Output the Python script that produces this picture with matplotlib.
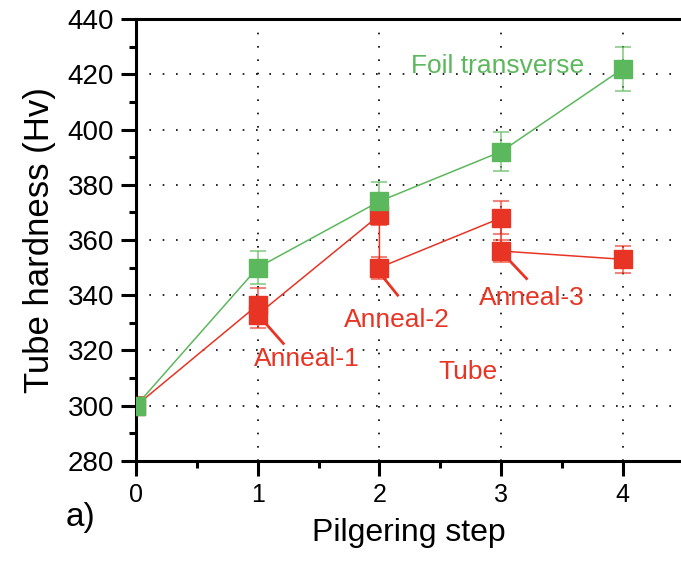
import numpy as np
import matplotlib
matplotlib.use("Agg")
import matplotlib.pyplot as plt
from matplotlib.ticker import MultipleLocator

plt.rcParams["font.family"] = ["Liberation Sans", "DejaVu Sans"]

GREEN = "#5cb85c"
RED = "#e83424"

# Foil, transverse direction
foil_step = [0, 1, 2, 3, 4]
foil_hv = [300, 350, 374, 392, 422]
foil_err = [3, 6, 7, 7, 8]

# Tube: each anneal gives a second point at the same step
tube_step = [0, 1, 1, 2, 2, 3, 3, 4]
tube_hv = [300, 336.5, 333, 369, 350, 368, 356, 353]
tube_err = [3, 6, 5, 3.5, 4, 6, 4, 5]

# label text, point it refers to, text position
anneal_labels = ["Anneal-1", "Anneal-2", "Anneal-3"]
anneal_points = [(1.07, 329.5), (2.04, 346), (3.06, 353)]
anneal_tips = [(1.21, 322.5), (2.15, 340), (3.21, 346)]
anneal_text = [(1.4, 317), (2.14, 331), (3.25, 339)]

fig = plt.figure(figsize=(6.81, 5.64), dpi=100)
ax = fig.add_axes([0.2, 0.183, 0.8, 0.783])

# error bars first, lighter
ax.errorbar(foil_step, foil_hv, yerr=foil_err, fmt="none", ecolor=GREEN,
            alpha=0.6, elinewidth=1.5, capsize=6, capthick=1.5, zorder=2)
ax.errorbar(tube_step, tube_hv, yerr=tube_err, fmt="none", ecolor=RED,
            alpha=0.6, elinewidth=1.5, capsize=6, capthick=1.5, zorder=2)

ax.plot(foil_step, foil_hv, "-", color=GREEN, lw=1.1, zorder=3)
ax.plot(tube_step, tube_hv, "-", color=RED, lw=1.1, zorder=3)
ax.plot(tube_step, tube_hv, "s", color=RED, ms=13, mec=RED, zorder=4)
ax.plot(foil_step, foil_hv, "s", color=GREEN, ms=13, mec=GREEN, zorder=5)

for lab, p0, p1, pt in zip(anneal_labels, anneal_points, anneal_tips, anneal_text):
    ax.plot([p0[0], p1[0]], [p0[1], p1[1]], color=RED, lw=2, zorder=4)
    ax.text(pt[0], pt[1], lab, color=RED, fontsize=19, ha="center", va="center")

ax.text(2.73, 312, "Tube", color=RED, fontsize=19, ha="center", va="center")
ax.text(2.97, 423, "Foil transverse", color=GREEN, fontsize=19,
        ha="center", va="center")

ax.set_xlim(0, 4.48)
ax.set_ylim(280, 440)
ax.xaxis.set_major_locator(MultipleLocator(1))
ax.xaxis.set_minor_locator(MultipleLocator(0.5))
ax.yaxis.set_major_locator(MultipleLocator(20))
ax.yaxis.set_minor_locator(MultipleLocator(10))

ax.grid(True, which="major", color="black", linestyle=(0, (1, 7)), lw=1.2)
ax.set_axisbelow(True)

ax.spines["right"].set_visible(False)
for s in ["left", "bottom", "top"]:
    ax.spines[s].set_linewidth(2.2)
ax.tick_params(which="major", direction="out", length=11, width=2.2, pad=5)
ax.tick_params(which="minor", direction="out", length=5, width=2.2)
ax.tick_params(axis="y", labelsize=20)
ax.tick_params(axis="x", labelsize=18)
ax.tick_params(top=False, right=False, which="both")

ax.set_xlabel("Pilgering step", fontsize=23, labelpad=8)
ax.set_ylabel("Tube hardness (Hv)", fontsize=25, labelpad=8)
fig.text(0.118, 0.083, "a)", fontsize=24, ha="center", va="center")

fig.savefig("out.png", dpi=100)
